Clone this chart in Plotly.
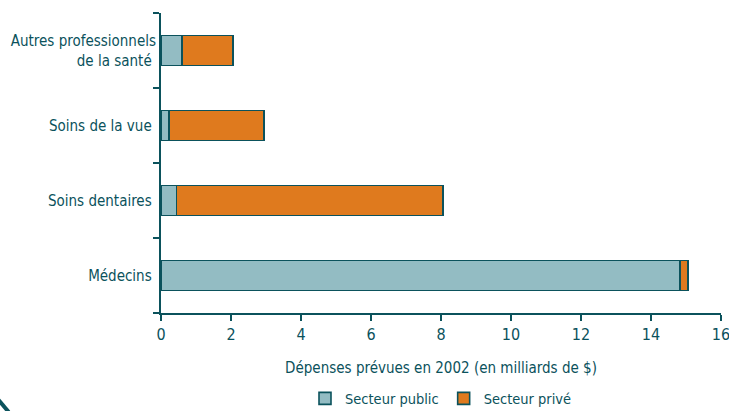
import plotly.graph_objects as go

categories = ["Médecins", "Soins dentaires", "Soins de la vue", "Autres professionnels<br>de la santé"]
public_values = [14.83, 0.44, 0.22, 0.60]
private_values = [0.22, 7.61, 2.72, 1.46]
x_ticks = [0, 2, 4, 6, 8, 10, 12, 14, 16]

teal = "#0b525c"
font_family = "Liberation Sans Narrow, DejaVu Sans Condensed, sans-serif"

fig = go.Figure()
fig.add_trace(go.Bar(
    y=categories, x=public_values, orientation="h", name="Secteur public",
    marker=dict(color="#93bcc3", line=dict(color=teal, width=1.6)),
))
fig.add_trace(go.Bar(
    y=categories, x=private_values, orientation="h", name="Secteur privé",
    marker=dict(color="#df7a1e", line=dict(color=teal, width=1.6)),
))

fig.update_layout(
    barmode="stack",
    bargap=0.6,
    width=729, height=411,
    margin=dict(l=161, r=8, t=13, b=98, autoexpand=False),
    paper_bgcolor="white", plot_bgcolor="white",
    font=dict(family=font_family, size=15, color=teal),
    showlegend=True,
    legend=dict(orientation="h", x=0.5, xanchor="center", y=-0.285, yanchor="middle",
                font=dict(size=14.5, color=teal), traceorder="normal"),
    shapes=[dict(type="line", xref="paper", yref="paper", x0=-0.29, y0=-0.29, x1=-0.272, y1=-0.33,
                 line=dict(color=teal, width=4))],
)
fig.update_xaxes(
    range=[0, 16], tickvals=x_ticks, ticktext=[str(v) for v in x_ticks],
    showgrid=False, zeroline=False, showline=True, linecolor=teal, linewidth=2,
    ticks="outside", ticklen=6, tickwidth=2, tickcolor=teal, automargin=False,
    ticklabeloverflow="allow",
    title=dict(text="Dépenses prévues en 2002 (en milliards de $)", standoff=19,
               font=dict(size=15, color=teal)),
    tickfont=dict(size=16, color=teal),
)
fig.update_yaxes(
    showgrid=False, showline=True, linecolor=teal, linewidth=2, automargin=False,
    ticks="outside", ticklen=6, tickwidth=2, tickcolor=teal, tickson="boundaries",
    ticksuffix=" ", tickfont=dict(size=15, color=teal),
)

fig.write_html("out.html", config={"displayModeBar": False},
               post_script="document.body.style.margin='0';document.body.style.overflow='hidden';")
